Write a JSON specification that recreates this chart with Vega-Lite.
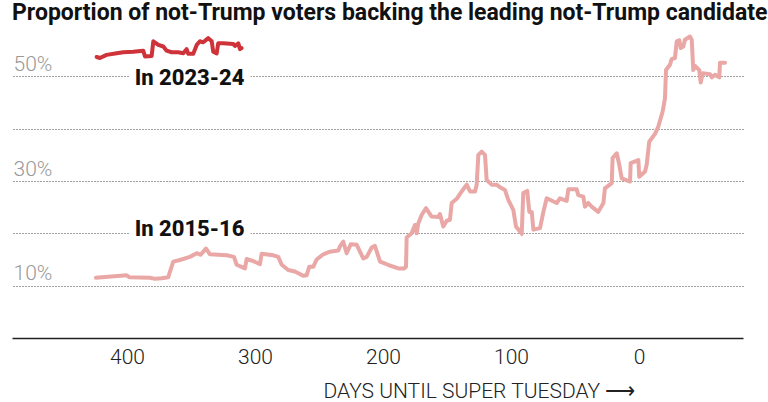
{
  "$schema": "https://vega.github.io/schema/vega-lite/v6.json",
  "width": 731,
  "height": 314,
  "autosize": {"type": "none"},
  "padding": {"left": 12, "top": 24, "right": 25, "bottom": 64},
  "background": "white",
  "title": {
    "text": "Proportion of not-Trump voters backing the leading not-Trump candidate",
    "anchor": "start",
    "frame": "group",
    "font": "Roboto",
    "fontSize": 23,
    "fontWeight": "bold",
    "color": "#111",
    "baseline": "alphabetic",
    "offset": 4,
    "dy": 23
  },
  "config": {"view": {"stroke": null}},
  "datasets": {
    "lines": [
      {"s": "2015-16", "d": 424.2, "p": 11.5},
      {"s": "2015-16", "d": 400.2, "p": 12.0},
      {"s": "2015-16", "d": 398.2, "p": 11.6},
      {"s": "2015-16", "d": 382, "p": 11.5},
      {"s": "2015-16", "d": 378, "p": 11.3},
      {"s": "2015-16", "d": 372.9, "p": 11.4},
      {"s": "2015-16", "d": 367.7, "p": 11.6},
      {"s": "2015-16", "d": 366.4, "p": 12.7},
      {"s": "2015-16", "d": 363.8, "p": 14.6},
      {"s": "2015-16", "d": 358.6, "p": 14.9},
      {"s": "2015-16", "d": 350.8, "p": 15.5},
      {"s": "2015-16", "d": 345.5, "p": 16.2},
      {"s": "2015-16", "d": 342.4, "p": 15.9},
      {"s": "2015-16", "d": 338.3, "p": 17.1},
      {"s": "2015-16", "d": 335.2, "p": 16.0},
      {"s": "2015-16", "d": 322.1, "p": 15.8},
      {"s": "2015-16", "d": 316.4, "p": 15.5},
      {"s": "2015-16", "d": 314.3, "p": 14.0},
      {"s": "2015-16", "d": 307.8, "p": 13.3},
      {"s": "2015-16", "d": 306.5, "p": 15.1},
      {"s": "2015-16", "d": 301.3, "p": 14.7},
      {"s": "2015-16", "d": 296.1, "p": 14.1},
      {"s": "2015-16", "d": 294.8, "p": 16.1},
      {"s": "2015-16", "d": 285.7, "p": 15.8},
      {"s": "2015-16", "d": 281.8, "p": 15.5},
      {"s": "2015-16", "d": 279.1, "p": 14.0},
      {"s": "2015-16", "d": 274, "p": 13.0},
      {"s": "2015-16", "d": 268.8, "p": 12.7},
      {"s": "2015-16", "d": 262.3, "p": 11.9},
      {"s": "2015-16", "d": 259.6, "p": 12.0},
      {"s": "2015-16", "d": 257.6, "p": 13.6},
      {"s": "2015-16", "d": 254.5, "p": 13.6},
      {"s": "2015-16", "d": 251.8, "p": 15.0},
      {"s": "2015-16", "d": 246.6, "p": 16.0},
      {"s": "2015-16", "d": 241.4, "p": 16.5},
      {"s": "2015-16", "d": 234.9, "p": 16.7},
      {"s": "2015-16", "d": 233.6, "p": 17.5},
      {"s": "2015-16", "d": 231, "p": 18.4},
      {"s": "2015-16", "d": 228.4, "p": 16.2},
      {"s": "2015-16", "d": 225.2, "p": 17.9},
      {"s": "2015-16", "d": 220.5, "p": 17.8},
      {"s": "2015-16", "d": 215.4, "p": 15.2},
      {"s": "2015-16", "d": 212.7, "p": 15.5},
      {"s": "2015-16", "d": 208.8, "p": 17.3},
      {"s": "2015-16", "d": 206.3, "p": 17.6},
      {"s": "2015-16", "d": 202.3, "p": 14.6},
      {"s": "2015-16", "d": 199.2, "p": 14.3},
      {"s": "2015-16", "d": 195.3, "p": 13.9},
      {"s": "2015-16", "d": 188, "p": 13.3},
      {"s": "2015-16", "d": 183.5, "p": 13.3},
      {"s": "2015-16", "d": 182, "p": 13.6},
      {"s": "2015-16", "d": 181.5, "p": 19.2},
      {"s": "2015-16", "d": 177.6, "p": 20.0},
      {"s": "2015-16", "d": 175, "p": 21.6},
      {"s": "2015-16", "d": 173.7, "p": 20.0},
      {"s": "2015-16", "d": 172.4, "p": 21.9},
      {"s": "2015-16", "d": 169.8, "p": 23.5},
      {"s": "2015-16", "d": 166.4, "p": 24.8},
      {"s": "2015-16", "d": 162, "p": 23.2},
      {"s": "2015-16", "d": 156.8, "p": 23.1},
      {"s": "2015-16", "d": 155.5, "p": 23.7},
      {"s": "2015-16", "d": 152.9, "p": 21.3},
      {"s": "2015-16", "d": 150.2, "p": 22.4},
      {"s": "2015-16", "d": 147.7, "p": 22.6},
      {"s": "2015-16", "d": 146.3, "p": 25.8},
      {"s": "2015-16", "d": 142.4, "p": 26.6},
      {"s": "2015-16", "d": 138.5, "p": 28.0},
      {"s": "2015-16", "d": 134.6, "p": 29.3},
      {"s": "2015-16", "d": 132, "p": 28.0},
      {"s": "2015-16", "d": 128.1, "p": 28.0},
      {"s": "2015-16", "d": 126.8, "p": 29.3},
      {"s": "2015-16", "d": 125.5, "p": 35.0},
      {"s": "2015-16", "d": 122.9, "p": 35.6},
      {"s": "2015-16", "d": 120.3, "p": 35.0},
      {"s": "2015-16", "d": 119, "p": 30.2},
      {"s": "2015-16", "d": 115.1, "p": 29.3},
      {"s": "2015-16", "d": 111.2, "p": 29.3},
      {"s": "2015-16", "d": 108.6, "p": 28.8},
      {"s": "2015-16", "d": 104.7, "p": 28.3},
      {"s": "2015-16", "d": 102.1, "p": 26.4},
      {"s": "2015-16", "d": 98.2, "p": 24.5},
      {"s": "2015-16", "d": 96.1, "p": 21.3},
      {"s": "2015-16", "d": 91.6, "p": 19.9},
      {"s": "2015-16", "d": 90.4, "p": 27.7},
      {"s": "2015-16", "d": 87.3, "p": 28.1},
      {"s": "2015-16", "d": 85.7, "p": 24.1},
      {"s": "2015-16", "d": 83.8, "p": 24.1},
      {"s": "2015-16", "d": 82.5, "p": 20.7},
      {"s": "2015-16", "d": 77.3, "p": 21.0},
      {"s": "2015-16", "d": 74.7, "p": 24.1},
      {"s": "2015-16", "d": 72.1, "p": 26.7},
      {"s": "2015-16", "d": 64.3, "p": 25.8},
      {"s": "2015-16", "d": 61.7, "p": 26.7},
      {"s": "2015-16", "d": 56.5, "p": 26.2},
      {"s": "2015-16", "d": 55.2, "p": 28.4},
      {"s": "2015-16", "d": 48.7, "p": 28.4},
      {"s": "2015-16", "d": 47.4, "p": 27.3},
      {"s": "2015-16", "d": 43.5, "p": 27.0},
      {"s": "2015-16", "d": 42.2, "p": 25.1},
      {"s": "2015-16", "d": 39.6, "p": 25.8},
      {"s": "2015-16", "d": 37, "p": 25.1},
      {"s": "2015-16", "d": 31.8, "p": 24.1},
      {"s": "2015-16", "d": 27.8, "p": 25.8},
      {"s": "2015-16", "d": 26.6, "p": 28.6},
      {"s": "2015-16", "d": 21.3, "p": 29.6},
      {"s": "2015-16", "d": 20.6, "p": 34.4},
      {"s": "2015-16", "d": 17.4, "p": 35.3},
      {"s": "2015-16", "d": 15.4, "p": 33.1},
      {"s": "2015-16", "d": 13.5, "p": 30.5},
      {"s": "2015-16", "d": 7, "p": 29.9},
      {"s": "2015-16", "d": 6.5, "p": 33.4},
      {"s": "2015-16", "d": 0.5, "p": 34.0},
      {"s": "2015-16", "d": -0.2, "p": 30.8},
      {"s": "2015-16", "d": -4.7, "p": 31.8},
      {"s": "2015-16", "d": -6, "p": 33.1},
      {"s": "2015-16", "d": -8, "p": 37.5},
      {"s": "2015-16", "d": -12.5, "p": 39.0},
      {"s": "2015-16", "d": -15.1, "p": 40.4},
      {"s": "2015-16", "d": -18.5, "p": 43.3},
      {"s": "2015-16", "d": -20.3, "p": 45.8},
      {"s": "2015-16", "d": -21.1, "p": 51.2},
      {"s": "2015-16", "d": -24.2, "p": 52.2},
      {"s": "2015-16", "d": -25.5, "p": 53.3},
      {"s": "2015-16", "d": -28.1, "p": 53.5},
      {"s": "2015-16", "d": -29.5, "p": 56.7},
      {"s": "2015-16", "d": -31.5, "p": 56.9},
      {"s": "2015-16", "d": -32.6, "p": 55.4},
      {"s": "2015-16", "d": -34.6, "p": 55.7},
      {"s": "2015-16", "d": -35.9, "p": 57.0},
      {"s": "2015-16", "d": -39.8, "p": 57.6},
      {"s": "2015-16", "d": -41.2, "p": 57.0},
      {"s": "2015-16", "d": -42.4, "p": 51.2},
      {"s": "2015-16", "d": -43.8, "p": 52.0},
      {"s": "2015-16", "d": -47.1, "p": 51.2},
      {"s": "2015-16", "d": -48.2, "p": 48.8},
      {"s": "2015-16", "d": -49.8, "p": 50.6},
      {"s": "2015-16", "d": -55.5, "p": 50.4},
      {"s": "2015-16", "d": -56.8, "p": 49.8},
      {"s": "2015-16", "d": -59.4, "p": 50.3},
      {"s": "2015-16", "d": -62.7, "p": 49.8},
      {"s": "2015-16", "d": -63.3, "p": 52.6},
      {"s": "2015-16", "d": -67.2, "p": 52.6},
      {"s": "2023-24", "d": 423.7, "p": 53.7},
      {"s": "2023-24", "d": 421.1, "p": 53.5},
      {"s": "2023-24", "d": 415.9, "p": 54.1},
      {"s": "2023-24", "d": 408, "p": 54.4},
      {"s": "2023-24", "d": 402.9, "p": 54.6},
      {"s": "2023-24", "d": 395.1, "p": 54.7},
      {"s": "2023-24", "d": 387.3, "p": 54.9},
      {"s": "2023-24", "d": 385.9, "p": 53.8},
      {"s": "2023-24", "d": 380.7, "p": 53.9},
      {"s": "2023-24", "d": 379.4, "p": 56.7},
      {"s": "2023-24", "d": 375.5, "p": 56.0},
      {"s": "2023-24", "d": 371.6, "p": 55.7},
      {"s": "2023-24", "d": 369, "p": 54.9},
      {"s": "2023-24", "d": 365.1, "p": 54.6},
      {"s": "2023-24", "d": 359.9, "p": 54.6},
      {"s": "2023-24", "d": 356, "p": 54.4},
      {"s": "2023-24", "d": 353.4, "p": 55.2},
      {"s": "2023-24", "d": 352.1, "p": 54.3},
      {"s": "2023-24", "d": 348.2, "p": 54.3},
      {"s": "2023-24", "d": 345.5, "p": 56.0},
      {"s": "2023-24", "d": 343, "p": 56.7},
      {"s": "2023-24", "d": 340.4, "p": 56.5},
      {"s": "2023-24", "d": 336.5, "p": 57.3},
      {"s": "2023-24", "d": 333.8, "p": 56.7},
      {"s": "2023-24", "d": 332.6, "p": 54.7},
      {"s": "2023-24", "d": 329.9, "p": 54.4},
      {"s": "2023-24", "d": 328.7, "p": 56.3},
      {"s": "2023-24", "d": 324.7, "p": 56.3},
      {"s": "2023-24", "d": 317, "p": 56.2},
      {"s": "2023-24", "d": 315.6, "p": 55.8},
      {"s": "2023-24", "d": 313, "p": 56.3},
      {"s": "2023-24", "d": 311.7, "p": 55.2},
      {"s": "2023-24", "d": 310.4, "p": 55.4}
    ],
    "labels": [
      {"t": "In 2023-24", "d": 394, "p": 48.4},
      {"t": "In 2015-16", "d": 394, "p": 19.4}
    ]
  },
  "layer": [
    {
      "data": {"name": "lines"},
      "mark": {"type": "line", "strokeWidth": 4, "strokeJoin": "round", "strokeCap": "round"},
      "encoding": {
        "x": {
          "field": "d",
          "type": "quantitative",
          "scale": {"domain": [-81.25, 489.8], "reverse": true, "nice": false, "zero": false},
          "axis": {
            "values": [400, 300, 200, 100, 0],
            "format": "d",
            "grid": false,
            "ticks": false,
            "domain": true,
            "domainColor": "#222",
            "domainWidth": 1.5,
            "labelFont": "Roboto",
            "labelFontSize": 21,
            "labelFontWeight": 300,
            "labelColor": "#222",
            "labelPadding": 8,
            "title": "DAYS UNTIL SUPER TUESDAY ⟶",
            "titleFont": "Roboto",
            "titleFontSize": 21,
            "titleFontWeight": 300,
            "titleColor": "#222",
            "titleAlign": "left",
            "titleAnchor": "start",
            "titleBaseline": "alphabetic",
            "titleX": 311,
            "titleY": 59
          }
        },
        "y": {
          "field": "p",
          "type": "quantitative",
          "scale": {"domain": [0, 60], "nice": false},
          "axis": {
            "values": [10, 20, 30, 40, 50],
            "grid": true,
            "gridColor": "#444",
            "gridDash": [1, 2],
            "gridWidth": 1.2,
            "domain": false,
            "ticks": false,
            "labelAlign": "left",
            "labelBaseline": "alphabetic",
            "labelPadding": -1,
            "labelOffset": -6,
            "labelFont": "Roboto",
            "labelFontSize": 21,
            "labelFontWeight": 300,
            "labelColor": "#999",
            "labelExpr": "datum.value % 20 == 10 ? datum.value + '%' : ''",
            "title": null
          }
        },
        "color": {
          "field": "s",
          "type": "nominal",
          "scale": {"domain": ["2015-16", "2023-24"], "range": ["#e9a7a6", "#cf333a"]},
          "legend": null
        }
      }
    },
    {
      "data": {"name": "labels"},
      "mark": {"type": "text", "align": "left", "baseline": "alphabetic", "font": "Roboto", "fontSize": 22, "fontWeight": 800, "fill": "white", "stroke": "white", "strokeWidth": 14, "strokeJoin": "round"},
      "encoding": {
        "x": {"field": "d", "type": "quantitative"},
        "y": {"field": "p", "type": "quantitative"},
        "text": {"field": "t"}
      }
    },
    {
      "data": {"name": "labels"},
      "mark": {"type": "text", "align": "left", "baseline": "alphabetic", "font": "Roboto", "fontSize": 22, "fontWeight": 800, "fill": "#111"},
      "encoding": {
        "x": {"field": "d", "type": "quantitative"},
        "y": {"field": "p", "type": "quantitative"},
        "text": {"field": "t"}
      }
    }
  ]
}
